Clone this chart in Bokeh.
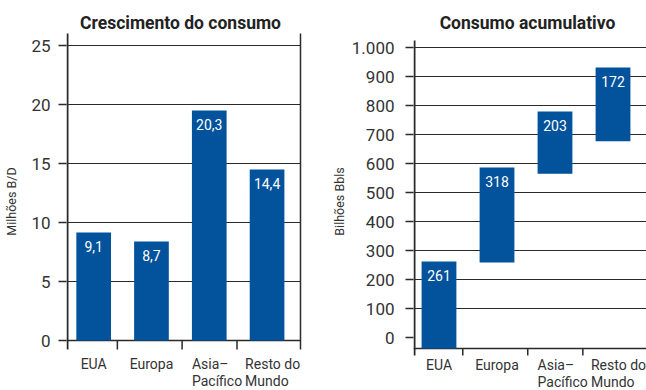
from bokeh.plotting import figure
from bokeh.layouts import row
from bokeh.models import FixedTicker, Range1d
from bokeh.core.properties import value
from bokeh.embed import file_html
from bokeh.resources import INLINE

# ---------------- data ----------------
regions = ["EUA", "Europa", "Asia–\nPacífico", "Resto do\nMundo"]

growth_values = [9.15, 8.4, 19.5, 14.5]          # Milhões B/D (bar heights as drawn)
growth_labels = ["9,1", "8,7", "20,3", "14,4"]
growth_ticks = [0, 5, 10, 15, 20, 25]
growth_tick_labels = ["0", "5", "10", "15", "20", "25"]

cum_bottoms = [-38, 259, 565, 677]               # Bilhões Bbls (bars as drawn)
cum_tops = [262, 586, 779, 931]
cum_labels = ["261", "318", "203", "172"]
cum_ticks = [0, 100, 200, 300, 400, 500, 600, 700, 800, 900, 1000]
cum_tick_labels = ["0", "100", "200", "300", "400", "500", "600", "700", "800", "900", "1.000"]

# ---------------- style ----------------
FONT = "Roboto"
BLUE = "#02529c"
INK = "#2a2a2a"
TXT = "#333333"
TOP = 12  # frame top border (px)

centers = [i + 0.5 for i in range(len(regions))]
separators = [0.91, 2.03, 2.98]
label_shift = {"Asia–\nPacífico": -0.3, "Resto do\nMundo": -0.38}


def build(width, border_left, xr, yr, ticks, tick_labels, ylabel, lab_standoff, axl_standoff):
    p = figure(width=width, height=390, x_range=Range1d(*xr), y_range=Range1d(*yr),
               x_axis_type=None, output_backend="svg", toolbar_location=None,
               min_border_left=border_left, min_border_right=0,
               min_border_top=TOP, min_border_bottom=0)
    p.outline_line_color = None
    p.grid.visible = False
    ax = p.yaxis[0]
    ax.ticker = FixedTicker(ticks=ticks)
    ax.major_label_overrides = {t: l for t, l in zip(ticks, tick_labels)}
    ax.axis_line_color = None
    ax.major_tick_in = 0
    ax.major_tick_out = 8
    ax.major_tick_line_color = INK
    ax.major_tick_line_width = 1.3
    ax.minor_tick_line_color = None
    ax.major_label_text_font = FONT
    ax.major_label_text_font_size = "17px"
    ax.major_label_text_color = TXT
    ax.major_label_standoff = lab_standoff
    ax.axis_label = ylabel
    ax.axis_label_text_font = FONT
    ax.axis_label_text_font_size = "12.5px"
    ax.axis_label_text_font_style = "normal"
    ax.axis_label_text_color = TXT
    ax.axis_label_standoff = axl_standoff
    return p


def add_xlabels(p, ytop):
    single = [(c, r) for c, r in zip(centers, regions) if "\n" not in r]
    multi = [(c + label_shift.get(r, 0), r) for c, r in zip(centers, regions) if "\n" in r]
    for items, align in ((single, "center"), (multi, "left")):
        p.text(x=[i[0] for i in items], y=[ytop] * len(items), text=[i[1] for i in items],
               text_font=value(FONT), text_font_size="14px", text_color=TXT,
               text_align=align, text_baseline="top", text_line_height=1.1)


# ================= left chart =================
L_X0, L_SX, L_LEFT = 0.03, 57.8, 66
L_Y0PX, L_SY = 340, 11.8


def lx(px):
    return L_X0 + (px - L_LEFT) / L_SX


def ly(py):
    return (L_Y0PX - py) / L_SY


p1 = build(323, L_LEFT, (L_X0, lx(323)), (ly(390), ly(TOP)),
           growth_ticks, growth_tick_labels, "Milhões B/D", 8, 9)

gy = [t for t in growth_ticks if t > 0]
p1.segment(x0=[lx(66)] * len(gy), y0=gy, x1=[lx(300)] * len(gy), y1=gy,
           line_color=INK, line_width=1.2)
p1.segment(x0=[lx(66)], y0=[0], x1=[lx(300)], y1=[0], line_color=INK, line_width=1.6)
p1.segment(x0=[lx(67), lx(300)], y0=[ly(33)] * 2, x1=[lx(67), lx(300)], y1=[ly(349)] * 2,
           line_color=INK, line_width=[2, 1.5])
p1.segment(x0=separators, y0=[0] * 3, x1=separators, y1=[ly(349)] * 3,
           line_color=INK, line_width=1.5)

p1.vbar(x=centers, width=0.6, bottom=0, top=growth_values, fill_color=BLUE, line_color=None)
p1.text(x=centers, y=growth_values, text=growth_labels, text_font=value(FONT),
        text_font_size="14px", text_color="white", text_align="center",
        text_baseline="middle", y_offset=14)

p1.text(x=[lx(180)], y=[ly(22)], text=["Crescimento do consumo"], text_font=value(FONT),
        text_font_size="17.5px", text_font_style="bold", text_color="#222222",
        text_align="center", text_baseline="middle")
add_xlabels(p1, ly(355))

# ================= right chart =================
R_X0, R_SX, R_LEFT = 0.0603, 58.0, 90
R_Y0PX, R_SY = 337, 0.29


def rx(px):
    return R_X0 + (px - R_LEFT) / R_SX


def ry(py):
    return (R_Y0PX - py) / R_SY


p2 = build(323, R_LEFT, (R_X0, rx(323)), (ry(390), ry(TOP)),
           cum_ticks, cum_tick_labels, "Bilhões Bbls", 11, 2)

gy2 = [t for t in cum_ticks if t > 0]
p2.segment(x0=[rx(90)] * len(gy2), y0=gy2, x1=[rx(323)] * len(gy2), y1=gy2,
           line_color=INK, line_width=1.2)
p2.segment(x0=[rx(90)], y0=[ry(348)], x1=[rx(323)], y1=[ry(348)], line_color=INK, line_width=1.6)
p2.segment(x0=[rx(91)], y0=[ry(40)], x1=[rx(91)], y1=[ry(355)], line_color=INK, line_width=2)
p2.segment(x0=separators, y0=[ry(348)] * 3, x1=separators, y1=[ry(355)] * 3,
           line_color=INK, line_width=1.5)

p2.vbar(x=centers, width=0.6, bottom=cum_bottoms, top=cum_tops, fill_color=BLUE, line_color=None)
p2.text(x=centers, y=cum_tops, text=cum_labels, text_font=value(FONT),
        text_font_size="14px", text_color="white", text_align="center",
        text_baseline="middle", y_offset=14)

p2.text(x=[rx(204)], y=[ry(22)], text=["Consumo acumulativo"], text_font=value(FONT),
        text_font_size="17.5px", text_font_style="bold", text_color="#222222",
        text_align="center", text_baseline="middle")
add_xlabels(p2, ry(356))

layout = row(p1, p2)
open("out.html", "w").write(file_html(layout, INLINE))
